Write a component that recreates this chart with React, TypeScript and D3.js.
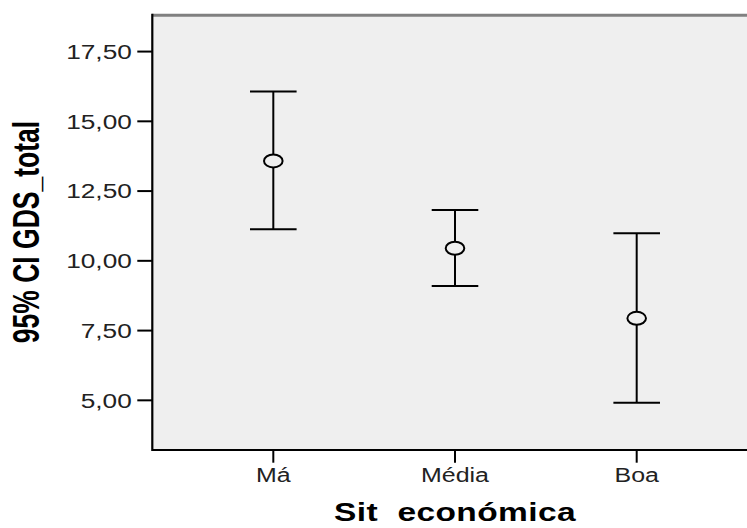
import * as d3 from 'd3'

// Sit económica groups and 95% CI of GDS_total
const categories = ['Má', 'Média', 'Boa']
const means = [13.58, 10.45, 7.94]
const lowerCI = [11.13, 9.1, 4.91]
const upperCI = [16.07, 11.82, 10.99]
const yTicks = [5, 7.5, 10, 12.5, 15, 17.5]

const W = 747
const H = 528
const FONT = '"Liberation Sans", Arial, sans-serif'

export default function App () {
    const left = 152.3
    const top = 15.3
    const bottom = 450

    const y = d3.scaleLinear().domain([3.22, 18.8]).range([bottom, top])
    // plot runs past the right edge of the picture
    const x = d3.scalePoint<string>().domain(categories).range([left, 757.7]).padding(0.666)

    const fmt = (v: number) => d3.format('.2f')(v).replace('.', ',')
    const capHalf = 23.3

    return (
        <svg width={W} height={H} style={{ position: 'absolute', left: 0, top: 0, display: 'block', background: '#fff' }}>
            <rect x={left} y={top} width={W - left} height={bottom - top} fill='#efefef' />
            {/* top frame line, grey */}
            <line x1={left} x2={W} y1={top} y2={top} stroke='#808080' strokeWidth={3} />
            {/* axes */}
            <line x1={left} x2={left} y1={top - 1.5} y2={bottom + 1} stroke='#000' strokeWidth={2.2} />
            <line x1={left} x2={W} y1={bottom} y2={bottom} stroke='#000' strokeWidth={2.2} />

            {yTicks.map(t => (
                <g key={t}>
                    <line x1={left - 15} x2={left} y1={y(t)} y2={y(t)} stroke='#000' strokeWidth={2} />
                    <text transform={`translate(${left - 20.5},${y(t)}) scale(1.28,1)`} dy='0.36em' textAnchor='end'
                        fontFamily={FONT} fontSize={20.5} fill='#222'>{fmt(t)}</text>
                </g>
            ))}

            {categories.map(c => (
                <g key={c}>
                    <line x1={x(c)} x2={x(c)} y1={bottom} y2={bottom + 12.7} stroke='#000' strokeWidth={2} />
                    <text transform={`translate(${x(c)},${482}) scale(1.28,1)`} textAnchor='middle'
                        fontFamily={FONT} fontSize={19.5} fill='#222'>{c}</text>
                </g>
            ))}

            {/* error bars */}
            {categories.map((c, i) => {
                const cx = x(c) as number
                return (
                    <g key={'eb' + c} stroke='#000' strokeWidth={2} fill='none'>
                        <line x1={cx} x2={cx} y1={y(upperCI[i])} y2={y(lowerCI[i])} />
                        <line x1={cx - capHalf} x2={cx + capHalf} y1={y(upperCI[i])} y2={y(upperCI[i])} />
                        <line x1={cx - capHalf} x2={cx + capHalf} y1={y(lowerCI[i])} y2={y(lowerCI[i])} />
                        <ellipse cx={cx} cy={y(means[i])} rx={9.3} ry={6.5} fill='#efefef' />
                    </g>
                )
            })}

            {/* axis titles */}
            <text transform={`translate(${455},${521}) scale(1.34,1)`} textAnchor='middle' style={{ whiteSpace: 'pre' }}
                fontFamily={FONT} fontWeight='bold' fontSize={25} letterSpacing={0.3} fill='#000'>Sit  económica</text>
            <text transform={`translate(${39},${232}) scale(1.42,1) rotate(-90)`} textAnchor='middle'
                fontFamily={FONT} fontWeight='bold' fontSize={26.5} fill='#000'>95% CI GDS_total</text>
        </svg>
    )
}
